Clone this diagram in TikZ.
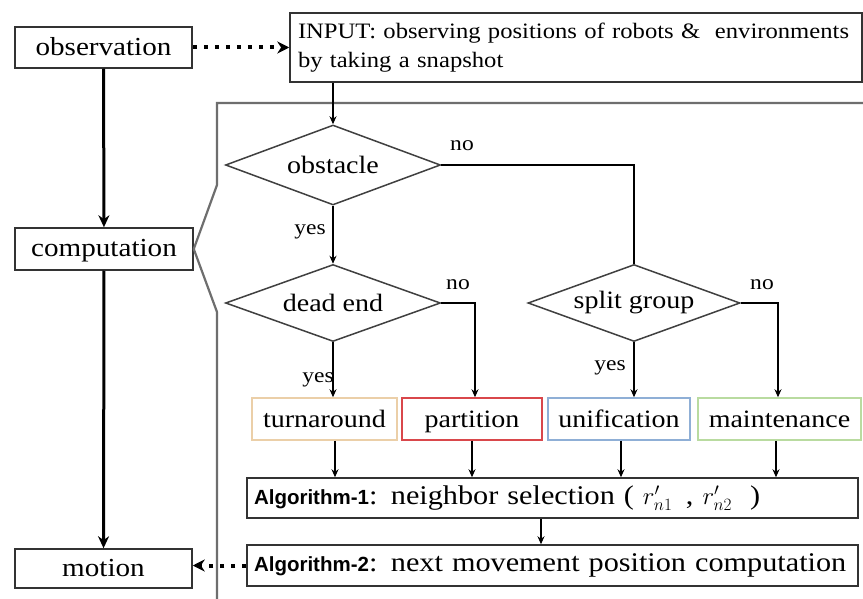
\documentclass[tikz,border=0pt]{standalone}
\usepackage{fontspec}
\setmainfont{Liberation Serif}[FakeStretch=1.12]
\newfontfamily\algfont{Liberation Sans}
\usetikzlibrary{shapes.geometric,arrows.meta}
\definecolor{frameC}{HTML}{6E6E6E}
\definecolor{turnC}{HTML}{EBCFA8}
\definecolor{partC}{HTML}{D9474B}
\definecolor{unifC}{HTML}{8FAFD6}
\definecolor{maintC}{HTML}{B9DBA0}
\begin{document}
\begin{tikzpicture}[x=1pt,y=-1pt,
  box/.style={draw=black!80,line width=1.5pt,inner sep=0pt,text height=20pt,text depth=4pt,font=\fontsize{26}{30}\selectfont},
  cbox/.style={draw=#1,line width=1.5pt,inner sep=0pt,minimum height=42pt,text height=20pt,text depth=4pt,font=\fontsize{25}{30}\selectfont},
  dia/.style={diamond,aspect=2.7,draw=black!75,line width=1.5pt,inner sep=0pt,font=\fontsize{25}{30}\selectfont},
  lab/.style={font=\fontsize{21}{24}\selectfont,inner sep=0pt},
  arr/.style={line width=1.5pt,-{Stealth[length=8pt,width=7pt]}},
  bigarr/.style={line width=3pt,-{Stealth[length=12pt,width=11pt]}},
  dotarr/.style={line width=4pt,dash pattern=on 4pt off 7pt,-{Stealth[length=12pt,width=12pt]}},
  frameline/.style={draw=frameC,line width=2.2pt}
]
\useasboundingbox (0,0) rectangle (863,599);
\clip (0,0) rectangle (863,599);
\fill[white] (0,0) rectangle (863,599);

% left column
\node[box,minimum width=177pt,minimum height=41pt] (obs) at (103.5,47.5) {observation};
\node[box,minimum width=178pt,minimum height=42pt] (comp) at (104,249) {computation};
\node[box,minimum width=177pt,minimum height=39pt] (mot) at (103.5,568.5) {motion};

% input
\node[draw=black!80,line width=1.5pt,inner sep=0pt,minimum width=572pt,minimum height=69pt,text width=556pt,align=left,
      font=\fontsize{22}{29}\selectfont] (inp) at (576,47.5)
  {INPUT: observing positions of robots \&\ \ environments\\by taking a snapshot};

% frame
\draw[frameline] (875,103) -- (217,103) -- (217,185) -- (comp.east) -- (217,312) -- (217,610);

% diamonds
\node[dia,minimum width=215pt,minimum height=80pt] (obst) at (333,165) {obstacle};
\node[dia,minimum width=215pt,minimum height=77pt] (dead) at (333,303) {dead end};
\node[dia,minimum width=212pt,minimum height=77pt] (split) at (634,303) {split group};

% row of cases
\node[cbox=turnC,minimum width=145pt] (turn) at (324.5,419) {turnaround};
\node[cbox=partC,minimum width=140pt] (part) at (472,419) {partition};
\node[cbox=unifC,minimum width=142pt] (unif) at (619,419) {unification};
\node[cbox=maintC,minimum width=163pt] (maint) at (779.5,419) {maintenance};

% algorithms
\node[draw=black!80,line width=1.5pt,inner sep=0pt,minimum width=611pt,minimum height=40pt,text width=597pt,align=left,
      font=\fontsize{27}{30}\selectfont] (alg1) at (552.5,498)
  {{\algfont\bfseries\fontsize{20.5}{24}\selectfont Algorithm-1}: neighbor selection (\,\,$r'_{n1}$\, , $r'_{n2}$\,\, )};
\node[draw=black!80,line width=1.5pt,inner sep=0pt,minimum width=611pt,minimum height=41pt,text width=597pt,align=left,
      font=\fontsize{27}{30}\selectfont] (alg2) at (552.5,565.5)
  {{\algfont\bfseries\fontsize{20.5}{24}\selectfont Algorithm-2}: next movement position computation};

% left arrows
\draw[bigarr] (obs) -- (comp);
\draw[bigarr] (comp) -- (mot);
\draw[dotarr] (obs.east) -- (inp.west |- obs.east);
\draw[dotarr] (alg2.west) -- (mot.east |- alg2.west);

% flow
\draw[arr] (inp.south -| obst.north) -- (obst.north);
\draw[line width=1.5pt] (obst.east) -| (split.north);
\draw[arr] (obst.south) -- (dead.north);
\draw[arr] (dead.south) -- (dead.south |- turn.north);
\draw[arr] (dead.east) -| (part.north -| 475,0);
\draw[arr] (split.south) -- (split.south |- unif.north);
\draw[arr] (split.east) -| (maint.north -| 778,0);

\draw[arr] (turn.south -| 335,0) -- (alg1.north -| 335,0);
\draw[arr] (part.south -| 472,0) -- (alg1.north -| 472,0);
\draw[arr] (unif.south -| 621,0) -- (alg1.north -| 621,0);
\draw[arr] (maint.south -| 776,0) -- (alg1.north -| 776,0);
\draw[arr] (alg1.south -| 541,0) -- (alg2.north -| 541,0);

% labels
\node[lab] (l1) at (462,146) {no};
\node[lab] (l2) at (310,232) {yes};
\node[lab] (l3) at (458,285) {no};
\node[lab] (l4) at (762,285) {no};
\node[lab] (l5) at (318,380) {yes};
\node[lab] (l6) at (610,368) {yes};
\end{tikzpicture}
\end{document}
